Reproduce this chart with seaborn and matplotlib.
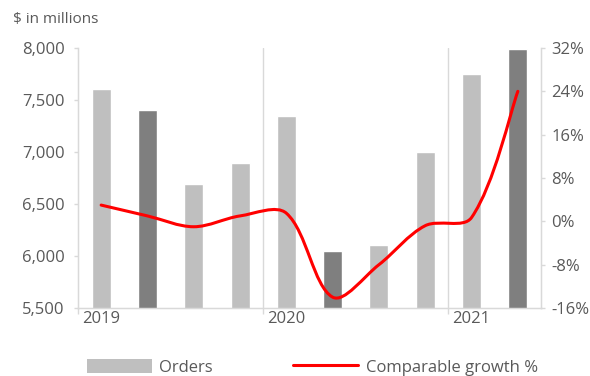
import matplotlib
matplotlib.use("Agg")
import matplotlib.pyplot as plt
from matplotlib.path import Path
from matplotlib.patches import PathPatch, Patch
from matplotlib.lines import Line2D
import seaborn as sns
import pandas as pd
import math

quarters = ["Q1 2019", "Q2 2019", "Q3 2019", "Q4 2019",
            "Q1 2020", "Q2 2020", "Q3 2020", "Q4 2020",
            "Q1 2021", "Q2 2021"]
orders = [7610, 7400, 6690, 6890, 7350, 6050, 6110, 7000, 7750, 7990]
growth = [3.0, 1.0, -1.0, 1.0, 1.5, -14.0, -8.0, -0.8, 0.7, 24.0]
year_labels = ["2019", "", "", "", "2020", "", "", "", "2021", ""]
highlight = [0, 1, 0, 0, 0, 1, 0, 0, 0, 1]

LIGHT = "#BFBFBF"
DARK = "#7F7F7F"
AXC = "#D9D9D9"
TXT = "#595959"
RED = "#FF0000"
FS = 12

sns.set_style("white")
plt.rcParams["font.family"] = ["Open Sans", "DejaVu Sans"]
plt.rcParams["axes.unicode_minus"] = False

df = pd.DataFrame({"quarter": quarters, "orders": orders})
palette = {q: (DARK if h else LIGHT) for q, h in zip(quarters, highlight)}

fig = plt.figure(figsize=(5.9, 3.76), dpi=100)
ax = fig.add_axes([78/590, 1-308/376, (541-78)/590, 260/376])

sns.barplot(data=df, x="quarter", y="orders", hue="quarter", palette=palette,
            order=quarters, hue_order=quarters, dodge=False, legend=False,
            width=0.41, saturation=1, ax=ax)

ax.set_ylim(5500, 8000)
ax.set_xlim(-0.5, len(quarters) - 0.5)
yt = [5500, 6000, 6500, 7000, 7500, 8000]
ax.set_yticks(yt)
ax.set_yticklabels([f"{v:,}" for v in yt])
ax.set_xticks(range(len(quarters)))
ax.set_xticklabels(year_labels)
ax.set_xticks([-0.5, 3.5, 7.5], minor=True)
ax.tick_params(axis="x", which="major", length=0, pad=2, labelsize=FS, labelcolor=TXT)
ax.tick_params(axis="x", which="minor", length=4, width=1, color=AXC, direction="out", bottom=True)
ax.tick_params(axis="y", left=True, length=3, width=1, color=AXC, pad=6.5, labelsize=FS, labelcolor=TXT)
ax.set_xlabel("")
ax.set_ylabel("")
for b in [3.5, 7.5]:
    ax.axvline(b, color=AXC, lw=1, zorder=0)
for s in ["left", "bottom", "right"]:
    ax.spines[s].set_color(AXC)
    ax.spines[s].set_linewidth(1)
ax.spines["top"].set_visible(False)

ax2 = ax.twinx()
ax2.set_ylim(-16, 32)
gt = [-16, -8, 0, 8, 16, 24, 32]
ax2.set_yticks(gt)
ax2.set_yticklabels([f"{v}%" for v in gt])
ax2.tick_params(axis="y", right=True, length=3, width=1, color=AXC, pad=4.5, labelsize=FS, labelcolor=TXT)
for s in ["left", "bottom", "right"]:
    ax2.spines[s].set_color(AXC)
ax2.spines["top"].set_visible(False)

# Excel-style smoothed line: cubic Bezier through the data points,
# control points weighted by neighbouring segment lengths (in display scale)
sx = 463 / len(quarters)   # px per category
sy = 260 / 48              # px per percent
pts = list(zip(range(len(growth)), growth))
n = len(pts)

def dist(a, b):
    return math.hypot((b[0] - a[0]) * sx, (b[1] - a[1]) * sy)

def tangent(i):
    p_prev = pts[i - 1] if i > 0 else pts[i]
    p_next = pts[i + 1] if i < n - 1 else pts[i]
    return (p_next[0] - p_prev[0], p_next[1] - p_prev[1])

verts = [pts[0]]
codes = [Path.MOVETO]
for i in range(n - 1):
    p1, p2 = pts[i], pts[i + 1]
    d12 = dist(p1, p2)
    d01 = dist(pts[i - 1], p1) if i > 0 else d12
    d23 = dist(p2, pts[i + 2]) if i + 2 < n else d12
    t1 = tangent(i)
    t2 = tangent(i + 1)
    f1 = d12 / (d01 + d12) / 3 if i > 0 else 1 / 6
    f2 = d12 / (d12 + d23) / 3 if i + 2 < n else 1 / 6
    c1 = (p1[0] + t1[0] * f1, p1[1] + t1[1] * f1)
    c2 = (p2[0] - t2[0] * f2, p2[1] - t2[1] * f2)
    verts += [c1, c2, p2]
    codes += [Path.CURVE4] * 3
ax2.add_patch(PathPatch(Path(verts, codes), fill=False, edgecolor=RED, lw=2.2,
                        capstyle="round", joinstyle="round"))

fig.text(13/590, 1-20/376, "$ in millions", fontsize=11, color=TXT, va="center", ha="left")

handles = [Patch(facecolor=LIGHT, edgecolor="none"),
           Line2D([0], [0], color=RED, lw=2.2)]
fig.legend(handles, ["Orders", "Comparable growth %"], loc="upper left",
           bbox_to_anchor=(87/590, 1-358.5/376), ncol=2, frameon=False,
           fontsize=FS, labelcolor=TXT, handlelength=3.9, handleheight=1.0,
           handletextpad=0.45, columnspacing=4.8, borderpad=0, borderaxespad=0)

fig.savefig("out.png", dpi=100)
